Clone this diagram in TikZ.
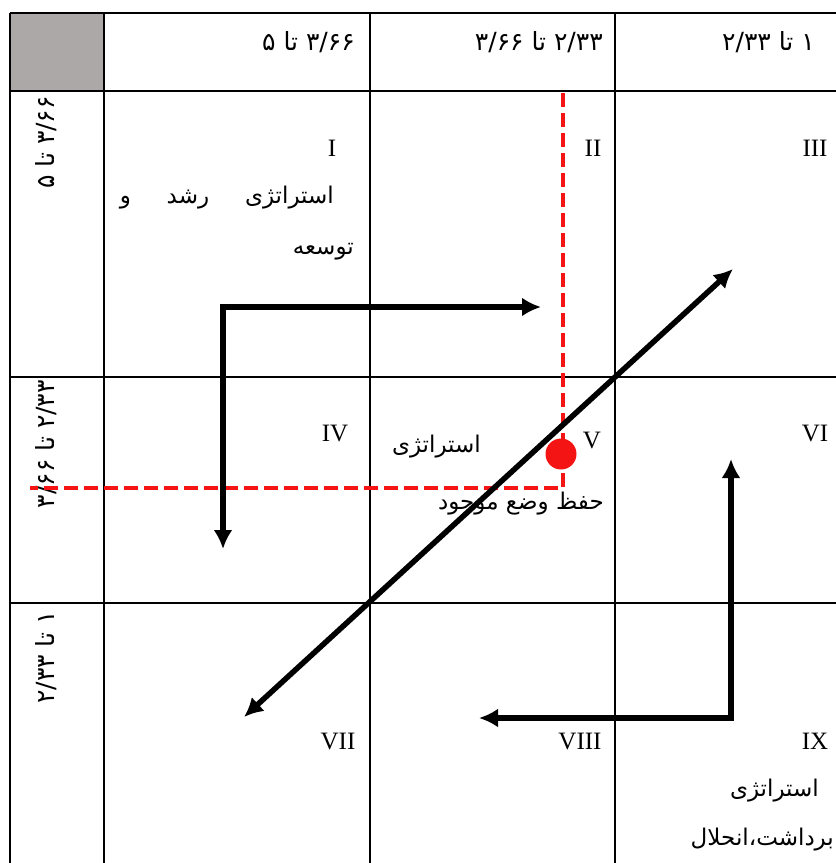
\documentclass[tikz,border=0pt]{standalone}
\usepackage{fontspec}
\setmainfont{Liberation Serif}
\newfontfamily\fa[Script=Arabic]{DejaVu Sans}
\TeXXeTstate=1
\usetikzlibrary{arrows.meta}
\definecolor{cellgray}{RGB}{172,168,167}
\definecolor{dotred}{RGB}{245,20,20}
\begin{document}
\begin{tikzpicture}[x=1pt,y=-1pt,
  grid/.style={line width=2pt},
  fatext/.style={font=\fa\fontsize{23}{27}\selectfont, inner sep=0pt},
  hdtext/.style={font=\fa\fontsize{25}{29}\selectfont, inner sep=0pt},
  rom/.style={font=\fontsize{25}{29}\selectfont, inner sep=0pt},
  bigarrow/.style={line width=5.5pt, {Latex[length=19pt,width=19pt]}-{Latex[length=19pt,width=19pt]}},
  reddash/.style={draw=dotred, line width=3.5pt, dash pattern=on 14pt off 6pt}]
\useasboundingbox (0,0) rectangle (836,863);
% grey corner cell
\fill[cellgray] (10,13) rectangle (104,91);
% grid
\draw[grid] (10,13) -- (836,13);
\draw[grid] (10,91) -- (836,91);
\draw[grid] (10,377) -- (836,377);
\draw[grid] (10,603) -- (836,603);
\draw[grid] (10,13) -- (10,863);
\draw[grid] (104,13) -- (104,863);
\draw[grid] (370,13) -- (370,863);
\draw[grid] (615,13) -- (615,863);
% header texts
\node[hdtext, anchor=base east] (h1) at (355,50) {\beginR ۳/۶۶ تا ۵\endR};
\node[hdtext, anchor=base east] (h2) at (603,50) {\beginR ۲/۳۳ تا ۳/۶۶\endR};
\node[hdtext, anchor=base east] (h3) at (815,50) {\beginR ۱ تا ۲/۳۳\endR};
% row labels (rotated)
\node[hdtext, rotate=90, anchor=east] (r1) at (46,96) {\beginR ۳/۶۶ تا ۵\endR};
\node[hdtext, rotate=90, anchor=east] (r2) at (46,380) {\beginR ۲/۳۳ تا ۳/۶۶\endR};
\node[hdtext, rotate=90, anchor=east] (r3) at (46,611) {\beginR ۱ تا ۲/۳۳\endR};
% roman numerals
\node[rom] (c1) at (332,148) {I};
\node[rom] (c2) at (593,148) {II};
\node[rom] (c3) at (815,148) {III};
\node[rom] (c4) at (335,433) {IV};
\node[rom] (c5) at (592,440) {V};
\node[rom] (c6) at (815,433) {VI};
\node[rom] (c7) at (338,741) {VII};
\node[rom] (c8) at (580,741) {VIII};
\node[rom] (c9) at (815,741) {IX};
% strategy texts
\node[fatext, anchor=base east] (s1a) at (334,203) {\hbox to 214pt{\beginR استراتژی\hfill رشد\hfill و\endR}};
\node[fatext, anchor=base east] (s1b) at (354,254) {\beginR توسعه\endR};
\node[fatext, anchor=base east] (s5a) at (481,452) {\beginR استراتژی\endR};
\node[fatext, anchor=base east] (s5b) at (604,509) {\beginR حفظ وضع موجود\endR};
\node[fatext, anchor=base east] (s9a) at (819,796) {\beginR استراتژی\endR};
\node[fatext, anchor=base east] (s9b) at (834,845) {\beginR برداشت،انحلال\endR};
% red dashed guides and point
\coordinate (rv) at (563,93);
\coordinate (rc) at (563,488);
\coordinate (rh) at (30,488);
\draw[reddash] (rv) -- (rc) -- (rh);
\node[circle, fill=dotred, minimum size=31pt, inner sep=0pt] (pt) at (561,454) {};
% arrows
\coordinate (a1) at (223,549);
\coordinate (a2) at (223,307);
\coordinate (a3) at (541,307);
\draw[bigarrow] (a1) -- (a2) -- (a3);
\coordinate (d1) at (244,717);
\coordinate (d2) at (733,269);
\draw[bigarrow] (d1) -- (d2);
\coordinate (b1) at (731,459);
\coordinate (b2) at (731,718);
\coordinate (b3) at (479,718);
\draw[bigarrow] (b1) -- (b2) -- (b3);
\end{tikzpicture}
\end{document}
